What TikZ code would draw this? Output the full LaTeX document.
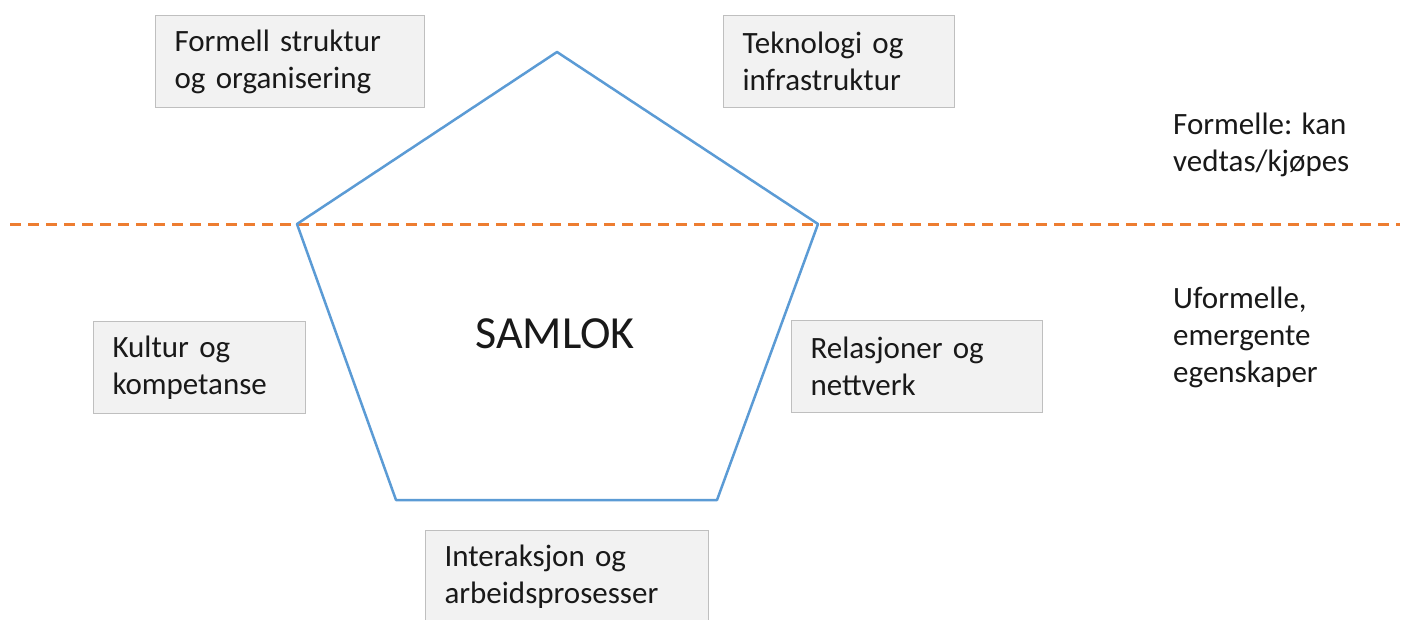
\documentclass[tikz,border=0pt]{standalone}
\usepackage{fontspec}
\setmainfont{Carlito}
\definecolor{boxfill}{HTML}{F2F2F2}
\definecolor{boxline}{HTML}{BFBFBF}
\definecolor{penta}{HTML}{5B9BD5}
\definecolor{divider}{HTML}{ED7D31}
\begin{document}
\begin{tikzpicture}[x=1pt,y=-1pt,
  txt/.style={font=\fontsize{31}{37}\selectfont, text=black!90},
  factor/.style={txt, draw=boxline, line width=1pt, fill=boxfill, anchor=north west,
    inner xsep=19pt, inner ysep=0pt, align=left, minimum height=92pt},
  note/.style={txt, anchor=north west, inner sep=0pt, align=left},
  edge/.style={draw=penta, line width=2.5pt, line join=round},
  split/.style={draw=divider, line width=3pt, dash pattern=on 11pt off 7pt}
]
\useasboundingbox (0,0) rectangle (1403,619);
\clip (0,0) rectangle (1403,619);
\fill[white] (0,0) rectangle (1403,619);

% dividing line between formal and informal parts
\coordinate (lineL) at (10,224);
\coordinate (lineR) at (1400,224);
\path[split] (lineL) -- (lineR);

% the pentagon
\coordinate (top) at (557,52);
\coordinate (rs) at (818,224);
\coordinate (rb) at (717,500);
\coordinate (lb) at (396,500);
\coordinate (ls) at (297,224);
\path[edge] (top) -- (rs) -- (rb) -- (lb) -- (ls) -- cycle;

\node[txt, font=\fontsize{46}{55}\selectfont, anchor=base] (samlok) at (555,348) {SAMLOK};

% the five factors
\node[factor, minimum width=269pt, text width=231pt] (struktur) at (155,15) {Formell struktur\\og organisering};
\node[factor, minimum width=231pt, text width=193pt] (teknologi) at (723,15) {Teknologi og\\infrastruktur};
\node[factor, minimum width=212pt, text width=174pt] (kultur) at (93,321) {Kultur og\\kompetanse};
\node[factor, minimum width=251pt, text width=213pt] (relasjoner) at (791,320) {Relasjoner og\\nettverk};
\node[factor, minimum width=283pt, text width=245pt] (interaksjon) at (425,530) {Interaksjon og\\arbeidsprosesser};

% side notes
\node[note] (formelle) at (1173,113) {Formelle: kan\\vedtas/kjøpes};
\node[note] (uformelle) at (1173,287) {Uformelle,\\emergente\\egenskaper};
\end{tikzpicture}
\end{document}
